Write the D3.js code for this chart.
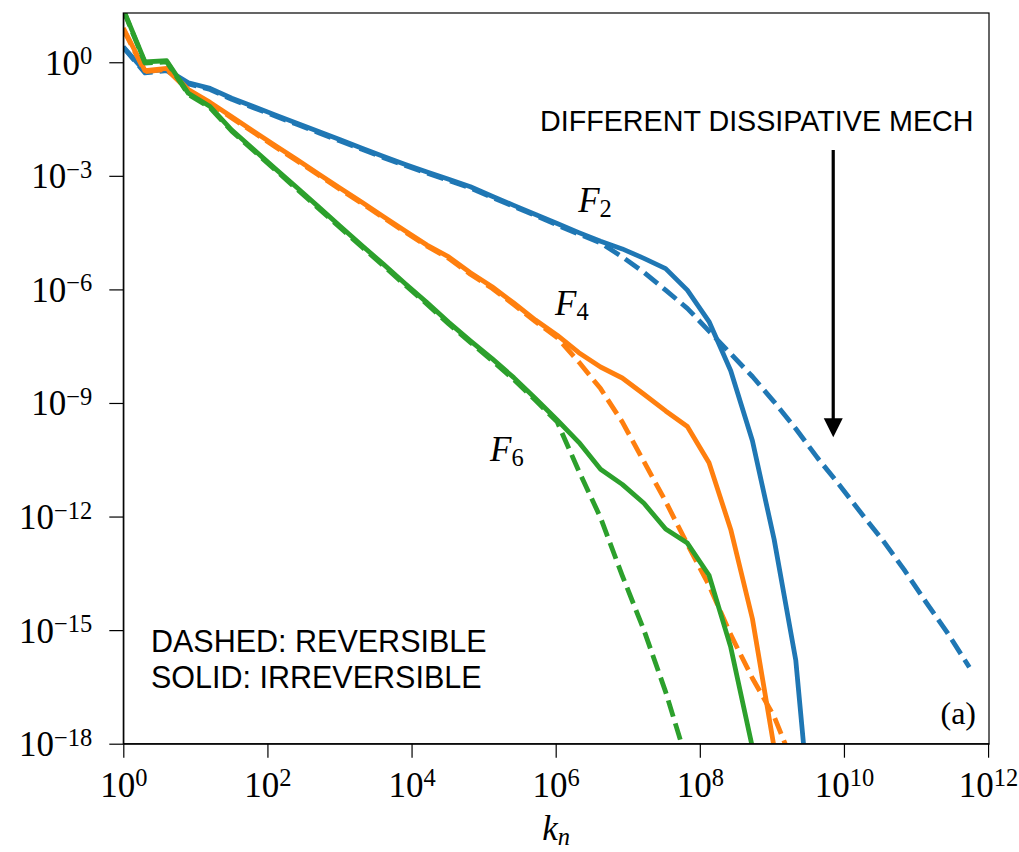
<!DOCTYPE html>
<html>
<head>
<meta charset="utf-8">
<script src="https://cdn.jsdelivr.net/npm/d3@7"></script>
<style>
  body { margin: 0; background: #fff; }
  svg { display: block; }
</style>
</head>
<body>
<svg id="chart" width="1019" height="852"></svg>
<script>
// shell wavenumbers k_n = 2^n
const kn = [1, 2, 4, 8, 16, 32, 64, 128, 256, 512, 1024, 2048, 4096, 8192, 16384,
  32768, 65536, 131072, 262144, 524288, 1048576, 2097152, 4194304, 8388608,
  16777216, 33554432, 67108864, 134217728, 268435456, 536870912, 1073741824,
  2147483648, 4294967296, 8589934592, 17179869184, 34359738368, 68719476736,
  137438953472, 274877906944, 549755813888]

// log10 F_p(k_n) (solid = irreversible, dashed = reversible)
const f2Irr = [0.41, -0.25, -0.19, -0.54, -0.69, -0.95, -1.17, -1.39, -1.61, -1.83,
  -2.05, -2.27, -2.49, -2.70, -2.90, -3.09, -3.29, -3.54, -3.78, -4.02,
  -4.26, -4.50, -4.73, -4.93, -5.18, -5.45, -6.02, -6.85, -8.15, -10.0,
  -12.6, -15.8, -22.0]
const f2Rev = [0.39, -0.28, -0.22, -0.57, -0.72, -0.98, -1.20, -1.42, -1.64, -1.86,
  -2.08, -2.30, -2.52, -2.73, -2.93, -3.12, -3.32, -3.57, -3.81, -4.05,
  -4.30, -4.54, -4.77, -5.14, -5.55, -6.02, -6.50, -7.10, -7.70, -8.30,
  -8.97, -9.68, -10.45, -11.16, -11.90, -12.62, -13.41, -14.26, -15.08, -15.98]
const f4Irr = [0.90, -0.22, -0.16, -0.72, -1.06, -1.44, -1.82, -2.20, -2.57, -2.95,
  -3.33, -3.70, -4.08, -4.46, -4.83, -5.14, -5.56, -5.93, -6.36, -6.81,
  -7.21, -7.67, -8.05, -8.34, -8.77, -9.21, -9.62, -10.58, -12.34, -14.7,
  -18.1, -22.0]
const f4Rev = [0.87, -0.25, -0.19, -0.75, -1.09, -1.47, -1.85, -2.23, -2.60, -2.98,
  -3.36, -3.73, -4.11, -4.49, -4.86, -5.18, -5.60, -5.97, -6.40, -6.85,
  -7.27, -7.92, -8.62, -9.50, -10.55, -11.6, -12.73, -13.82, -15.12, -16.27,
  -17.28, -18.7]
const f6Irr = [1.40, 0.01, 0.04, -0.82, -1.17, -1.79, -2.30, -2.81, -3.31, -3.82,
  -4.33, -4.84, -5.34, -5.85, -6.35, -6.87, -7.36, -7.83, -8.33, -8.88,
  -9.45, -10.04, -10.75, -11.15, -11.65, -12.33, -12.70, -13.55, -15.45, -18.1,
  -22.0]
const f6Rev = [1.38, -0.02, 0.01, -0.85, -1.20, -1.82, -2.33, -2.84, -3.35, -3.86,
  -4.37, -4.88, -5.38, -5.89, -6.39, -6.91, -7.40, -7.88, -8.38, -8.93,
  -9.50, -10.8, -12.03, -13.56, -15.0, -16.63, -18.5]

const xTicks = [1, 1e2, 1e4, 1e6, 1e8, 1e10, 1e12]
const yTicks = [1, 1e-3, 1e-6, 1e-9, 1e-12, 1e-15, 1e-18]

// curve labels: text, subscript, position (k, F)
const curveLabels = [
  { text: 'F', sub: '2', k: 2.05e6, f: 1.13e-4 },
  { text: 'F', sub: '4', k: 9.8e5, f: 2.1e-7 },
  { text: 'F', sub: '6', k: 1.23e5, f: 2.95e-11 }
]
// arrow marking the dissipative range
const arrowK = 7.1e9
const arrowFrom = 4.8e-3
const arrowTo = 1.25e-10

const colors = { F2: '#1f77b4', F4: '#ff7f0e', F6: '#2ca02c' }
const series = [
  { key: 'F2', dashed: true, logs: f2Rev },
  { key: 'F2', dashed: false, logs: f2Irr },
  { key: 'F4', dashed: true, logs: f4Rev },
  { key: 'F4', dashed: false, logs: f4Irr },
  { key: 'F6', dashed: true, logs: f6Rev },
  { key: 'F6', dashed: false, logs: f6Irr }
]

const svg = d3.select('#chart')
const width = 1019, height = 852
const margin = { top: 13, right: 30, bottom: 108.3, left: 123.3 }
const serif = '"Liberation Serif", "Times New Roman", serif'
const sans = '"Liberation Sans", Arial, sans-serif'

svg.append('rect').attr('width', width).attr('height', height).attr('fill', '#fff')

const x = d3.scaleLog()
  .domain([1, 1.03e12])
  .range([margin.left, width - margin.right])
const y = d3.scaleLog()
  .domain([1e-18, 20])
  .range([height - margin.bottom, margin.top])

svg.append('clipPath').attr('id', 'plot-clip')
  .append('rect')
  .attr('x', margin.left).attr('y', margin.top)
  .attr('width', x.range()[1] - margin.left)
  .attr('height', y.range()[0] - margin.top)

const line = d3.line()
  .x(d => x(d[0]))
  .y(d => y(d[1]))

const plot = svg.append('g').attr('clip-path', 'url(#plot-clip)')
series.forEach(s => {
  const pts = s.logs.map((v, i) => [kn[i], Math.pow(10, v)])
  plot.append('path')
    .datum(pts)
    .attr('fill', 'none')
    .attr('stroke', colors[s.key])
    .attr('stroke-width', 4.8)
    .attr('stroke-linejoin', 'round')
    .attr('stroke-dasharray', s.dashed ? '17,7' : null)
    .attr('d', line)
})

// tick label as 10^e
const powerLabel = (sel, d) => {
  const e = Math.round(Math.log10(d))
  sel.append('tspan').text('10')
  sel.append('tspan')
    .attr('font-size', 24.5)
    .attr('dy', -10.5)
    .text(String(e).replace('-', '\u2212'))
}

const xAxis = svg.append('g')
  .attr('transform', `translate(0,${y.range()[0]})`)
  .call(d3.axisBottom(x).tickValues(xTicks).tickSize(14).tickSizeOuter(0).tickFormat(''))
xAxis.selectAll('.tick text').remove()
xAxis.selectAll('.tick').append('text')
  .attr('y', 53.3)
  .attr('fill', '#000')
  .attr('text-anchor', 'middle')
  .attr('font-family', serif)
  .attr('font-size', 35)
  .each(function (d) { powerLabel(d3.select(this), d) })

const yAxis = svg.append('g')
  .attr('transform', `translate(${margin.left},0)`)
  .call(d3.axisLeft(y).tickValues(yTicks).tickSize(14).tickSizeOuter(0).tickFormat(''))
yAxis.selectAll('.tick text').remove()
yAxis.selectAll('.tick').append('text')
  .attr('x', -31)
  .attr('y', 12)
  .attr('fill', '#000')
  .attr('text-anchor', 'end')
  .attr('font-family', serif)
  .attr('font-size', 35)
  .each(function (d) { powerLabel(d3.select(this), d) })

svg.selectAll('.domain, .tick line').attr('stroke', '#000').attr('stroke-width', 1.2)

// frame
svg.append('rect')
  .attr('x', margin.left).attr('y', margin.top)
  .attr('width', x.range()[1] - margin.left)
  .attr('height', y.range()[0] - margin.top)
  .attr('fill', 'none').attr('stroke', '#000').attr('stroke-width', 1.2)

// x-axis label k_n
const xl = svg.append('text')
  .attr('x', (x.range()[0] + x.range()[1]) / 2)
  .attr('y', 840)
  .attr('text-anchor', 'middle')
  .attr('font-family', serif)
  .attr('font-style', 'italic')
  .attr('font-size', 35)
xl.append('tspan').text('k')
xl.append('tspan').attr('font-size', 24.5).attr('dy', 5).text('n')

// curve labels
curveLabels.forEach(l => {
  const t = svg.append('text')
    .attr('x', x(l.k)).attr('y', y(l.f))
    .attr('font-family', serif)
    .attr('font-size', 35)
  t.append('tspan').attr('font-style', 'italic').text(l.text)
  t.append('tspan').attr('font-size', 24.5).attr('dy', 5).text(l.sub)
})

// annotations
svg.append('text')
  .attr('x', 540).attr('y', 131)
  .attr('font-family', sans).attr('font-size', 28.7)
  .text('DIFFERENT DISSIPATIVE MECH')
svg.append('text')
  .attr('x', 151).attr('y', 651.7)
  .attr('font-family', sans).attr('font-size', 30.5)
  .text('DASHED: REVERSIBLE')
svg.append('text')
  .attr('x', 151).attr('y', 688.3)
  .attr('font-family', sans).attr('font-size', 30.5)
  .text('SOLID: IRREVERSIBLE')
svg.append('text')
  .attr('x', 976).attr('y', 724)
  .attr('text-anchor', 'end')
  .attr('font-family', serif).attr('font-size', 32)
  .text('(a)')

// arrow
const ax = x(arrowK), ay0 = y(arrowFrom), ay1 = y(arrowTo)
svg.append('line')
  .attr('x1', ax).attr('x2', ax)
  .attr('y1', ay0).attr('y2', ay1 - 17)
  .attr('stroke', '#000').attr('stroke-width', 3.2)
svg.append('path')
  .attr('d', `M${ax - 9.5},${ay1 - 19}L${ax + 9.5},${ay1 - 19}L${ax},${ay1}Z`)
  .attr('fill', '#000')
</script>
</body>
</html>
